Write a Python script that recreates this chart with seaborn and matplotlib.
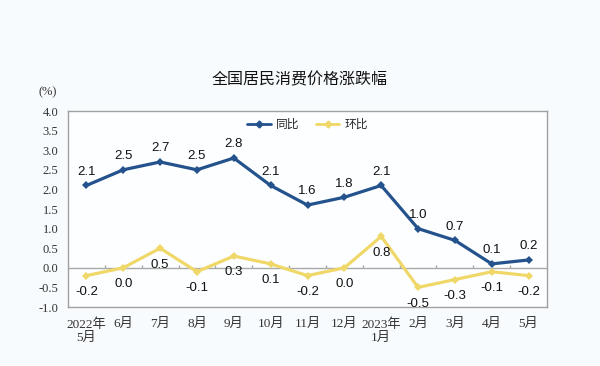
import matplotlib
matplotlib.use("Agg")
import matplotlib.pyplot as plt
import seaborn as sns
import pandas as pd
import numpy as np
from matplotlib.lines import Line2D

months = ["2022年\n5月", "6月", "7月", "8月", "9月", "10月", "11月", "12月",
          "2023年\n1月", "2月", "3月", "4月", "5月"]
yoy = [2.1, 2.5, 2.7, 2.5, 2.8, 2.1, 1.6, 1.8, 2.1, 1.0, 0.7, 0.1, 0.2]
mom = [-0.2, 0.0, 0.5, -0.1, 0.3, 0.1, -0.2, 0.0, 0.8, -0.5, -0.3, -0.1, -0.2]
yticks = [-1.0, -0.5, 0.0, 0.5, 1.0, 1.5, 2.0, 2.5, 3.0, 3.5, 4.0]

sns.set_theme(style="white")
plt.rcParams['font.family'] = ['Liberation Serif', 'Noto Sans CJK SC']

BLUE = "#24528c"
YELLOW = "#f0d868"
BG = "#f7fbfd"

df = pd.DataFrame({"idx": list(range(len(months))) * 2,
                   "val": yoy + mom,
                   "series": ["同比"] * len(yoy) + ["环比"] * len(mom)})

fig = plt.figure(figsize=(6, 3.66), dpi=100, facecolor=BG)
ax = fig.add_axes([0.1133, 0.1612, 0.7984, 0.5355])
ax.set_facecolor("#fdfeff")

sns.lineplot(data=df, x="idx", y="val", hue="series", palette={"同比": BLUE, "环比": YELLOW},
             marker="D", markersize=4, markeredgewidth=0, linewidth=2.3, ax=ax, legend=False)

ax.axhline(0, color="#a8a8a8", lw=1, zorder=0)
for i in range(len(months) - 1):
    ax.vlines(i + 0.5, 0, 0.08, color="#a8a8a8", lw=1, zorder=0)

for i, v in enumerate(yoy):
    ax.annotate(f"{v:.1f}", (i, v), xytext=(0, 5.5), textcoords="offset points",
                ha="center", va="bottom", fontsize=9.5, family=['Liberation Sans'], color="#111111")
for i, v in enumerate(mom):
    ax.annotate(f"{v:.1f}", (i, v), xytext=(0, -7.5), textcoords="offset points",
                ha="center", va="top", fontsize=9.5, family=['Liberation Sans'], color="#111111")

ax.set_xlim(-0.5, len(months) - 0.5)
ax.set_ylim(-1.0, 4.0)
ax.set_yticks(yticks)
ax.set_yticklabels([f"{t:.1f}" for t in yticks], fontsize=9, color="#333333")
ax.set_xticks(range(len(months)))
ax.set_xticklabels(months, fontsize=9.5, color="#333333", linespacing=1.15)
ax.tick_params(axis="both", length=0, pad=7)
ax.tick_params(axis="x", pad=8)
ax.set_xlabel("")
ax.set_ylabel("")
for s in ax.spines.values():
    s.set_color("#a0a0a0")
    s.set_linewidth(1)

handles = [Line2D([0], [0], color=BLUE, lw=2, marker="D", markersize=3.5),
           Line2D([0], [0], color=YELLOW, lw=2, marker="D", markersize=3.5)]
ax.legend(handles, ["同比", "环比"], loc="upper center", bbox_to_anchor=(0.5, 1.02), ncol=2,
          frameon=False, handlelength=2.0, columnspacing=1.4, handletextpad=0.4,
          prop={'family': ['Noto Sans CJK SC'], 'size': 8.5})

fig.text(0.5, 0.782, "全国居民消费价格涨跌幅", ha="center", va="center", fontsize=11.5,
         family=['Noto Sans CJK SC'], color="#111111")
fig.text(0.08, 0.749, "(%)", ha="center", va="center", fontsize=9, color="#333333")

fig.savefig("out.png", dpi=100, facecolor=BG)
